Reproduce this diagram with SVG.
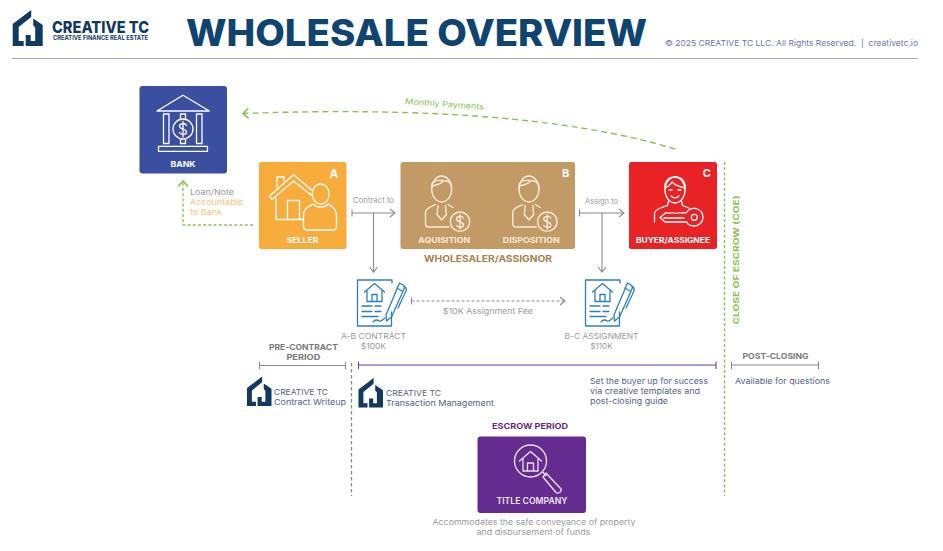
<svg xmlns="http://www.w3.org/2000/svg" width="943" height="551" viewBox="0 0 943 551">
<style>
text{font-family:"Inter","Open Sans","Liberation Sans",sans-serif}
.w{fill:#fff;font-weight:700;text-anchor:middle;font-size:8px}
.i{fill:none;stroke:#fff;stroke-width:1.3;stroke-linejoin:round;stroke-linecap:round}
.ic{fill:none;stroke:#f7ead9;stroke-width:1.4;stroke-linejoin:round;stroke-linecap:round}
.g{fill:#9a9a9a;font-size:8px}
.m{text-anchor:middle}
.n{fill:#55627f;font-size:8px}
.h{fill:#7a7a7a;font-weight:700;font-size:8px;text-anchor:middle}
.c{fill:none;stroke:#8a8a8a;stroke-width:1.1}
.gr{fill:none;stroke:#8cc152;stroke-width:1.4;stroke-dasharray:3 2.200}
.d{fill:none;stroke:#2f7fb8;stroke-width:1.3;stroke-linejoin:round;stroke-linecap:round}
</style>
<defs>
<marker id="ag" markerWidth="9" markerHeight="10" refX="7" refY="5" orient="auto" markerUnits="userSpaceOnUse"><path d="M2 1L7 5L2 9" fill="none" stroke="#8a8a8a" stroke-width="1.100"/></marker>
<marker id="agr" markerWidth="10" markerHeight="12" refX="7.500" refY="6" orient="auto" markerUnits="userSpaceOnUse"><path d="M2 1L7.500 6L2 11" fill="none" stroke="#8cc152" stroke-width="1.600"/></marker>
<symbol id="logo" viewBox="0 0 30 36" overflow="visible">
<path fill="#12395f" d="M0 14L18.500 0V7L6 17V31H11V36H0Z"/>
<path fill="#12395f" d="M20.500 8.500L30 15V36H13V25H18V31H22.500V17.500L20.500 15.500Z"/>
</symbol>
<g id="person">
<ellipse cx="441.700" cy="189" rx="10" ry="13"/>
<path d="M431.700 188C431 180 437 180 443 180.500C447 180.500 451.700 182 451.700 188M432 186C437 185 441 184 443 181"/>
<path d="M435.500 204.500C431 207 426 208 425.500 212V224C425.500 226 427 227 429 227H449"/>
<path d="M448 204.500L453 207.500"/>
<path d="M438 205.500L437 214.500L441.700 220L446.400 214.500L445.400 205.500"/>
<circle cx="460" cy="221.700" r="9.700"/>
<path d="M463.500 218C462 215.500 456.500 216 456.500 219C456.500 222.500 463.500 221 463.500 225C463.500 228 458 228 456.500 225.500M460 214.500V229"/>
</g>
<g id="doc">
<path d="M392 283V280H357.500V326H391.500V312"/>
<path d="M364.500 292L374.500 283.500L384.500 292M367 290V301.500H382V290M372 301.500V294.500H377V301.500"/>
<path d="M362 306H372M375 306H381M362 311.500H372M375 311.500H381M362 316.500H378M373 322C375 319 378 320 379 321C381 322 383 319 385 318"/>
<path d="M399.500 283L403 285C404.500 286 404.500 288 404 289L391.500 317L386.500 321L386 315Z"/>
<path d="M397 288L402 291M404.500 286.500C406.500 287.500 406.500 289 406 291L398 308"/>
</g>
</defs>
<rect width="943" height="551" fill="#fff"/>

<g id="header">
<use href="#logo" x="12.700" y="10" width="30" height="36"/>
<text x="52" y="32.500" font-size="16.500" font-weight="800" fill="#12395f" textLength="97" lengthAdjust="spacingAndGlyphs">CREATIVE TC</text>
<text x="53" y="40" font-size="5.500" font-weight="700" fill="#12395f" textLength="95" lengthAdjust="spacingAndGlyphs">CREATIVE FINANCE REAL ESTATE</text>
<text x="186" y="46" font-size="36.500" font-weight="800" fill="#0f4470" textLength="461" lengthAdjust="spacingAndGlyphs">WHOLESALE OVERVIEW</text>
<text x="665" y="46" font-size="8px" fill="#6d76a3" textLength="253" lengthAdjust="spacingAndGlyphs" xml:space="preserve">© 2025 CREATIVE TC LLC. All Rights Reserved.  |  creativetc.io</text>
<path d="M12 58.500H918" stroke="#a3a6c9" stroke-width="1"/>
</g>

<g id="connectors">
<path class="gr" style="stroke-dasharray:6 4" d="M675 149C570 117 420 107 243 113.500" marker-end="url(#agr)"/>
<path class="gr" d="M253 225H183V181" marker-end="url(#agr)"/>
<path class="gr" d="M724.500 162V496"/>
<path class="c" d="M352 209.500V216.500M352 213H395" marker-end="url(#ag)"/>
<path class="c" d="M373.500 213V272" marker-end="url(#ag)"/>
<path class="c" d="M579.500 209V216.500M579.500 213H624" marker-end="url(#ag)"/>
<path class="c" d="M602 213V272" marker-end="url(#ag)"/>
<path class="c" d="M411.500 297.500V304.500"/>
<path class="c" d="M411.500 301H565" stroke-dasharray="3 2" marker-end="url(#ag)"/>
<path class="c" d="M351.500 363V496" stroke-dasharray="3.500 2.500" style="stroke-width:1.300"/>
<path class="c" d="M259.500 362V369M259.500 365.500H345.500M345.500 362V369"/>
<path d="M358.500 361.500V369M358.500 365H716M716 361.500V369" fill="none" stroke="#6a3d9a" stroke-width="1.100"/>
<path class="c" d="M731.500 361.500V369M731.500 365H818.500M818.500 361.500V369"/>
</g>

<g id="bank">
<rect x="139.500" y="86" width="87.500" height="87.500" rx="3" fill="#3a4fa0"/>
<g class="i">
<path d="M157 111L183 95.300L209.300 111Z"/>
<rect x="163.500" y="114" width="5.500" height="29.500"/>
<rect x="196.500" y="114" width="5.500" height="29.500"/>
<circle cx="183" cy="129" r="10"/>
<path d="M180.500 119V114H185.500V119M180.500 139V143.500H185.500V139"/>
<rect x="158.500" y="146.300" width="49" height="5"/>
<path d="M186.500 125.500C185 122.500 179.500 123 179.500 126.300C179.500 130 186.500 128.500 186.500 132C186.500 135 181 135.300 179.500 132.500M183 121.500V137"/>
</g>
<text class="w" x="183" y="166.500" textLength="25" lengthAdjust="spacingAndGlyphs">BANK</text>
</g>

<g id="seller">
<rect x="259" y="162" width="87.500" height="87" rx="2.500" fill="#f8ac3b"/>
<g class="i">
<path d="M269.500 196L293.500 174.700L313 191M272 199.500L293.500 181L311 195M269.500 196L272 199.500"/>
<path d="M277 186.500V177H284V180.500"/>
<path d="M276 198V219.500H303M287.500 219.500V200.500H299.500V219.500"/>
<ellipse cx="320.700" cy="194" rx="8.500" ry="10"/>
<path d="M313 204C306 208 303.500 209 303.500 216V226C303.500 229 305 230 307 230H333C335.500 230 336.500 228.500 336.500 226V216C336.500 209 333 207 328 204C325 208 317 208 313 204Z"/>
</g>
<text class="w" x="302.500" y="243" textLength="32" lengthAdjust="spacingAndGlyphs">SELLER</text>
<text x="334" y="177.500" fill="#fff" font-size="12px" font-weight="700" text-anchor="middle">A</text>
</g>

<g id="wholesaler">
<rect x="400.500" y="162" width="174.500" height="87" rx="2.500" fill="#c29a66"/>
<use href="#person" class="ic"/>
<use href="#person" class="ic" x="87.300"/>
<text class="w" x="444.300" y="243" textLength="52" lengthAdjust="spacingAndGlyphs" style="fill:#f7ead9">AQUISITION</text>
<text class="w" x="531.300" y="243" textLength="57" lengthAdjust="spacingAndGlyphs" style="fill:#f7ead9">DISPOSITION</text>
<text x="565.700" y="177" fill="#fff" font-size="11px" font-weight="700" text-anchor="middle">B</text>
<text x="488" y="262" font-size="9px" font-weight="700" fill="#a87f4d" text-anchor="middle" textLength="128" lengthAdjust="spacingAndGlyphs">WHOLESALER/ASSIGNOR</text>
</g>

<g id="buyer">
<rect x="629" y="162" width="88" height="87" rx="2.500" fill="#e92226"/>
<g class="i">
<ellipse cx="675" cy="190" rx="10" ry="13"/>
<path d="M665 189C664 181 669 177 675 177C681 177 686 181 685 189M665 188C669 186 671 184 672 182C676 186 680 187 685 188"/>
<path d="M669 190H672M678 190H681M671 196C673 198.500 677 198.500 679 196"/>
<path d="M668.500 201L667.500 205.500C661 207.500 656 209 654.500 213V222"/>
<path d="M681.500 201L682.500 205.500L689 208"/>
<path d="M660 217.500L666 212.500C669 214.500 671 211.500 674 213C677 214.500 679 211.500 682 213L686.500 212.500C689 208.500 693 208 696 208.500C701 210 703 214 703 217.500C703 222 699 226 694 226C690.500 226 688 224.500 686.500 222H665Z"/>
<circle cx="694.300" cy="217.300" r="3"/>
<path d="M664 218H684"/>
</g>
<text class="w" x="673" y="243" textLength="74" lengthAdjust="spacingAndGlyphs">BUYER/ASSIGNEE</text>
<text x="706.700" y="177" fill="#fff" font-size="11px" font-weight="700" text-anchor="middle">C</text>
</g>

<g id="ab-contract">
<use href="#doc" class="d"/>
<text class="g m" x="373.500" y="339" textLength="65" lengthAdjust="spacingAndGlyphs">A-B CONTRACT</text>
<text class="g m" x="373.500" y="349" textLength="25" lengthAdjust="spacingAndGlyphs">$100K</text>
</g>
<g id="bc-assignment">
<use href="#doc" class="d" x="228"/>
<text class="g m" x="601.500" y="339" textLength="74" lengthAdjust="spacingAndGlyphs">B-C ASSIGNMENT</text>
<text class="g m" x="601.500" y="349" textLength="22" lengthAdjust="spacingAndGlyphs">$110K</text>
</g>

<g id="title-company">
<text x="530" y="429" font-size="8px" font-weight="700" fill="#5f2d85" text-anchor="middle" textLength="76" lengthAdjust="spacingAndGlyphs">ESCROW PERIOD</text>
<rect x="477.500" y="436.500" width="108.500" height="76.500" rx="3" fill="#642c8f"/>
<g fill="none" stroke="#f0e0f5" stroke-width="1.300" stroke-linejoin="round" stroke-linecap="round">
<circle cx="530.500" cy="461" r="16"/>
<path d="M519.500 461L530.500 451.500L541.500 461M523 459V471H538V459M527.500 471V463H533.500V471"/>
<path d="M542.500 472L546 475.500"/>
<path d="M546 473L561 489C562 492 558 494 556 492.500L543 477Z"/>
</g>
<text x="532" y="504" font-size="8.500px" font-weight="600" fill="#f0e6f5" text-anchor="middle" textLength="71" lengthAdjust="spacingAndGlyphs">TITLE COMPANY</text>
<text class="g m" x="534" y="525" textLength="203" lengthAdjust="spacingAndGlyphs">Accommodates the safe conveyance of property</text>
<text class="g m" x="533.500" y="535" textLength="114" lengthAdjust="spacingAndGlyphs">and disbursement of funds</text>
</g>

<g id="labels">
<text x="405" y="104" font-size="8px" fill="#8cc152" transform="rotate(4 405 104)" textLength="79" lengthAdjust="spacingAndGlyphs">Monthly Payments</text>
<text class="g" x="190" y="195" textLength="44" lengthAdjust="spacingAndGlyphs">Loan/Note</text>
<text x="190" y="205" font-size="8px" fill="#f8c27a" textLength="53" lengthAdjust="spacingAndGlyphs">Accountable</text>
<text x="190" y="215" font-size="8px" fill="#f8c27a" textLength="32" lengthAdjust="spacingAndGlyphs">to Bank</text>
<text class="g m" x="373.500" y="203" style="font-size:7.500px" textLength="41" lengthAdjust="spacingAndGlyphs">Contract to</text>
<text class="g m" x="601.500" y="203.500" style="font-size:7.500px" textLength="33" lengthAdjust="spacingAndGlyphs">Assign to</text>
<text class="g m" x="488" y="314" textLength="90" lengthAdjust="spacingAndGlyphs">$10K Assignment Fee</text>
<text class="h" x="303.400" y="350" textLength="69" lengthAdjust="spacingAndGlyphs">PRE-CONTRACT</text>
<text class="h" x="303.400" y="360" textLength="34" lengthAdjust="spacingAndGlyphs">PERIOD</text>
<text class="h" x="775.500" y="359" textLength="66" lengthAdjust="spacingAndGlyphs">POST-CLOSING</text>
<text x="739" y="260" font-size="8px" font-weight="700" fill="#8cc152" text-anchor="middle" transform="rotate(-90 739 260)" textLength="129" lengthAdjust="spacingAndGlyphs">CLOSE OF ESCROW (COE)</text>
<use href="#logo" x="247" y="376.500" width="24.500" height="29.500"/>
<text class="n" x="274" y="395" textLength="54" lengthAdjust="spacingAndGlyphs">CREATIVE TC</text>
<text class="n" x="274" y="405" textLength="72" lengthAdjust="spacingAndGlyphs">Contract Writeup</text>
<use href="#logo" x="358.500" y="378" width="24.500" height="29.500"/>
<text class="n" x="386" y="396" textLength="55" lengthAdjust="spacingAndGlyphs">CREATIVE TC</text>
<text class="n" x="386" y="406" textLength="108" lengthAdjust="spacingAndGlyphs">Transaction Management</text>
<text class="n" x="590" y="384" textLength="118" lengthAdjust="spacingAndGlyphs">Set the buyer up for success</text>
<text class="n" x="590" y="394" textLength="110" lengthAdjust="spacingAndGlyphs">via creative templates and</text>
<text class="n" x="590" y="404" textLength="78" lengthAdjust="spacingAndGlyphs">post-closing guide</text>
<text class="n" x="735" y="384" textLength="95" lengthAdjust="spacingAndGlyphs">Available for questions</text>
</g>
</svg>
